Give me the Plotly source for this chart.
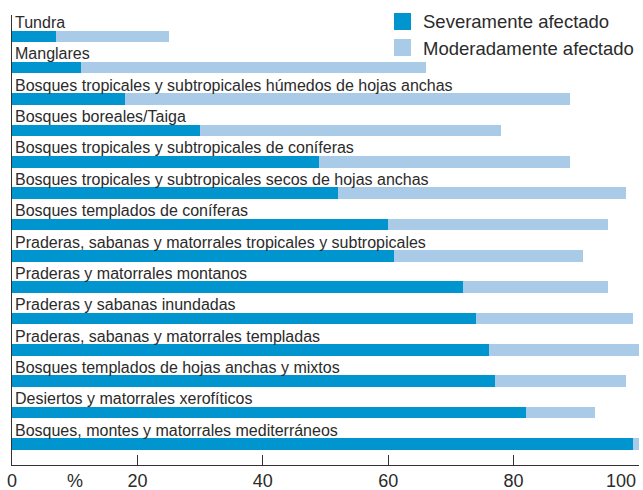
import plotly.graph_objects as go

categories = [
    "Tundra",
    "Manglares",
    "Bosques tropicales y subtropicales húmedos de hojas anchas",
    "Bosques boreales/Taiga",
    "Bosques tropicales y subtropicales de coníferas",
    "Bosques tropicales y subtropicales secos de hojas anchas",
    "Bosques templados de coníferas",
    "Praderas, sabanas y matorrales tropicales y subtropicales",
    "Praderas y matorrales montanos",
    "Praderas y sabanas inundadas",
    "Praderas, sabanas y matorrales templadas",
    "Bosques templados de hojas anchas y mixtos",
    "Desiertos y matorrales xerofíticos",
    "Bosques, montes y matorrales mediterráneos",
]
severe = [7, 11, 18, 30, 49, 52, 60, 61, 72, 74, 76, 77, 82, 99]
total = [25, 66, 89, 78, 89, 98, 95, 91, 95, 99, 100, 98, 93, 100]
moderate = [t - s for t, s in zip(total, severe)]
tick_vals = [0, 20, 40, 60, 80, 100]
tick_text = ["0", "20", "40", "60", "80", ""]
last_tick_label = "100"
series_names = ["Severamente afectado", "Moderadamente afectado"]

C_SEV = "#0095CF"
C_MOD = "#AACBE8"
TXT = "#2b2b2b"
FONT = "Liberation Sans, Arial, sans-serif"

ypos = list(range(len(categories)))
BW = 0.37

fig = go.Figure()
fig.add_trace(go.Bar(y=ypos, x=severe, orientation="h", marker=dict(color=C_SEV, line=dict(width=0)),
                     width=BW, name=series_names[0], showlegend=False, hoverinfo="skip"))
fig.add_trace(go.Bar(y=ypos, x=moderate, orientation="h", marker=dict(color=C_MOD, line=dict(width=0)),
                     width=BW, name=series_names[1], showlegend=False, hoverinfo="skip"))

W, H = 643, 490
ml, mr, mt, mb = 12, 4, 15, 25
pw, ph = W - ml - mr, H - mt - mb
def px(x): return (x - ml) / pw
def py(y): return 1 - (y - mt) / ph

annotations = []
for i, c in enumerate(categories):
    annotations.append(dict(x=0, y=i - BW / 2, xref="x", yref="y", text=c, showarrow=False,
                            xanchor="left", yanchor="bottom", xshift=1, yshift=-2.5,
                            font=dict(family=FONT, size=16, color=TXT)))
annotations.append(dict(x=10, y=0, xref="x", yref="paper", text="%", showarrow=False,
                        xanchor="center", yanchor="top", yshift=-4,
                        font=dict(family=FONT, size=18, color=TXT)))
annotations.append(dict(x=100, y=0, xref="x", yref="paper", text=last_tick_label, showarrow=False,
                        xanchor="right", yanchor="top", yshift=-4, xshift=-1,
                        font=dict(family=FONT, size=18, color=TXT)))

shapes = [
    dict(type="rect", xref="paper", yref="paper", x0=px(394), x1=px(411), y0=py(30), y1=py(13),
         fillcolor=C_SEV, line=dict(width=0)),
    dict(type="rect", xref="paper", yref="paper", x0=px(394), x1=px(411), y0=py(56), y1=py(39),
         fillcolor=C_MOD, line=dict(width=0)),
]
annotations.append(dict(x=px(421), y=py(22), xref="paper", yref="paper", text=series_names[0],
                        showarrow=False, xanchor="left", yanchor="middle",
                        font=dict(family=FONT, size=18.5, color=TXT)))
annotations.append(dict(x=px(421), y=py(48), xref="paper", yref="paper", text=series_names[1],
                        showarrow=False, xanchor="left", yanchor="middle",
                        font=dict(family=FONT, size=18.5, color=TXT)))

fig.update_layout(
    barmode="stack",
    width=W, height=H,
    margin=dict(l=ml, r=mr, t=mt, b=mb),
    plot_bgcolor="white", paper_bgcolor="white",
    showlegend=False,
    hovermode=False,
    xaxis=dict(range=[0, 100], tickvals=tick_vals, ticktext=tick_text, ticks="inside", ticklen=10,
               tickwidth=1.3, tickcolor="#333", showline=True, linecolor="#333", linewidth=1.3,
               showgrid=False, zeroline=False, ticklabeloverflow="allow", ticklabelstandoff=-1,
               automargin=False, tickfont=dict(family=FONT, size=18, color=TXT)),
    yaxis=dict(range=[13.67, -0.68], showticklabels=False, ticks="", showline=True,
               linecolor="#333", linewidth=1.3, showgrid=False, zeroline=False),
    annotations=annotations,
    shapes=shapes,
)

fig.write_html("out.html", config={"displayModeBar": False},
               post_script="document.body.style.margin='0';document.body.style.overflow='hidden';")
